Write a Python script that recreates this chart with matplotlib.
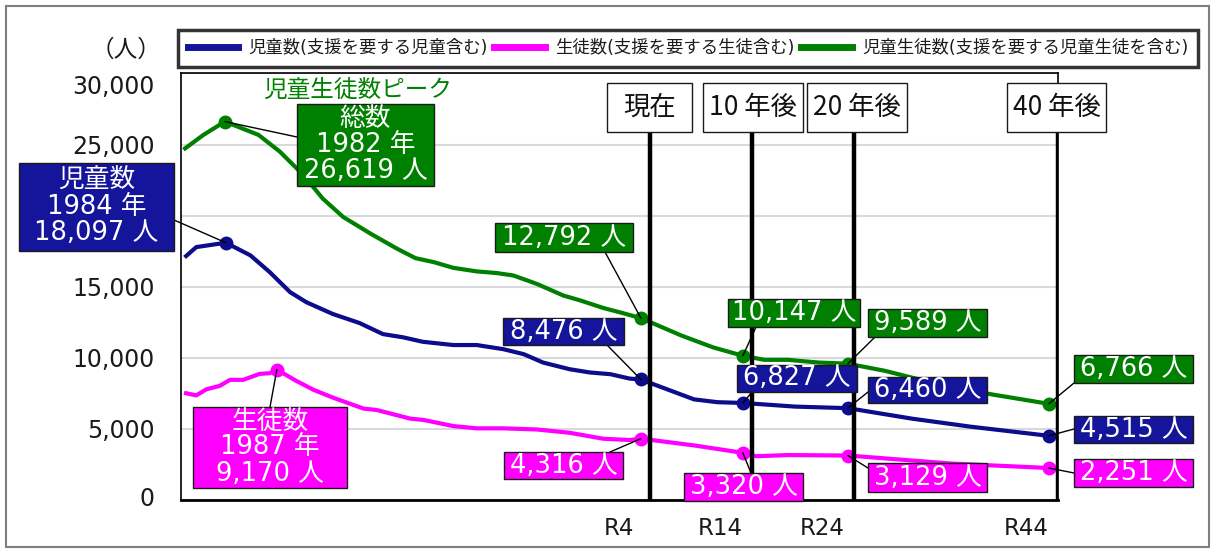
import numpy as np
import matplotlib
matplotlib.use("Agg")
import matplotlib.pyplot as plt
import matplotlib.transforms as mtransforms
from matplotlib.patches import Rectangle, ConnectionPatch
from matplotlib.lines import Line2D

plt.rcParams['font.family'] = ['DejaVu Sans', 'Noto Sans CJK JP']

# ---- data (x = year, y = persons) ----
green_years = [1977.3, 1979.1, 1981.2, 1984.5, 1986.6, 1988.9, 1990.8, 1992.8, 1995.5,
               1998.1, 1999.9, 2001.7, 2003.6, 2005.9, 2007.9, 2009.5, 2011.8, 2014.4,
               2016.0, 2018.3, 2020.3, 2022, 2026, 2029.1, 2032, 2034.1, 2036.4, 2039.4,
               2042.3, 2045.9, 2050.5, 2056.3, 2062]
green_vals = [24730, 25680, 26619, 25680, 24500, 22860, 21200, 19910, 18730,
              17670, 17010, 16730, 16330, 16080, 15960, 15790, 15200, 14380,
              14050, 13510, 13130, 12792, 11560, 10730, 10147, 9860, 9860, 9670,
              9589, 9090, 8260, 7440, 6766]

blue_years = [1977.4, 1978.4, 1981.3, 1983.7, 1985.6, 1987.6, 1989.2, 1991.8, 1994.4,
              1996.7, 1998.7, 2000.6, 2003.6, 2005.9, 2008.5, 2010.5, 2012.4, 2015,
              2017, 2019, 2020.9, 2022, 2027.2, 2029.5, 2032, 2037.1, 2042.3, 2048.6,
              2054.3, 2062]
blue_vals = [17160, 17790, 18097, 17210, 16030, 14620, 13910, 13080, 12450,
             11670, 11440, 11130, 10900, 10900, 10610, 10260, 9670, 9200,
             8970, 8850, 8540, 8476, 7080, 6880, 6827, 6570, 6460, 5720,
             5160, 4515]

pink_years = [1977.4, 1978.4, 1979.4, 1980.7, 1981.7, 1983, 1984.6, 1985.6, 1986.3,
              1988.2, 1989.9, 1991.8, 1994.8, 1996.1, 1999.4, 2000.7, 2003.6, 2005.9,
              2008.5, 2011.8, 2015, 2018.3, 2020.9, 2022, 2027.2, 2032, 2033.3, 2036.4,
              2042.3, 2052.5, 2062]
pink_vals = [7510, 7360, 7790, 8030, 8450, 8450, 8870, 8920, 9170,
             8380, 7750, 7200, 6430, 6330, 5720, 5630, 5200, 5040,
             5040, 4960, 4730, 4310, 4220, 4316, 3840, 3320, 3080, 3160,
             3129, 2560, 2251]

# highlighted points (peak, now, +10, +20, +40 years)
green_mark_years = [1981.2, 2022, 2032, 2042.3, 2062]
green_mark_vals = [26619, 12792, 10147, 9589, 6766]
blue_mark_years = [1981.3, 2022, 2032, 2042.3, 2062]
blue_mark_vals = [18097, 8476, 6827, 6460, 4515]
pink_mark_years = [1986.3, 2022, 2032, 2042.3, 2062]
pink_mark_vals = [9170, 4316, 3320, 3129, 2251]
peak_years = {'green': 1982, 'blue': 1984, 'pink': 1987}

milestone_years = [2022, 2032, 2042, 2062]
milestone_names = ['現在', '10 年後', '20 年後', '40 年後']
reiwa_labels = ['R4', 'R14', 'R24', 'R44']

yticks = [0, 5000, 10000, 15000, 20000, 25000, 30000]
# the 20,000 label is hidden behind the peak box in the original
ytick_labels = ['0', '5,000', '10,000', '15,000', '', '25,000', '30,000']

series_labels = ['児童数(支援を要する児童含む)', '生徒数(支援を要する生徒含む)',
                 '児童生徒数(支援を要する児童生徒を含む)']

C_BLUE_LINE = '#0c0c8c'
C_BLUE_BOX = '#15159c'
C_PINK = '#ff00ff'
C_GREEN = '#008000'

W, H = 1213, 550
fig = plt.figure(figsize=(W / 100, H / 100), dpi=100)


def fx(x):
    return x / W


def fy(y):
    return 1 - y / H


ax = fig.add_axes([fx(181), fy(500), (1058 - 181) / W, 426.5 / H])
ax.set_xlim(1976.9, 2062.9)
ax.set_ylim(0, 30000)

ax.plot(blue_years, blue_vals, color=C_BLUE_LINE, lw=3, zorder=3)
ax.plot(pink_years, pink_vals, color=C_PINK, lw=3, zorder=3)
ax.plot(green_years, green_vals, color=C_GREEN, lw=3, zorder=3)
ax.plot(blue_mark_years, blue_mark_vals, 'o', color=C_BLUE_LINE, ms=9, zorder=4)
ax.plot(pink_mark_years, pink_mark_vals, 'o', color=C_PINK, ms=9, zorder=4)
ax.plot(green_mark_years, green_mark_vals, 'o', color=C_GREEN, ms=9, zorder=4)

# milestone vertical lines
for yr in milestone_years:
    ax.axvline(yr + 0.9, ymin=0, ymax=(500 - 132) / 426.5, color='black', lw=3.2, zorder=5)

ax.set_yticks(yticks)
ax.set_yticklabels(ytick_labels, fontsize=17, color='#1a1a1a')
ax.set_xticks([yr - 2.2 for yr in milestone_years])
ax.set_xticklabels(reiwa_labels, fontsize=16.5, color='#1a1a1a')
ax.tick_params(axis='both', length=0)
ax.tick_params(axis='y', pad=19)
ax.tick_params(axis='x', pad=12)
ax.yaxis.grid(True, color='#d9d9d9', lw=1.5)
ax.set_axisbelow(True)
for side in ['left', 'right', 'top']:
    ax.spines[side].set_linewidth(1.2)
ax.spines['bottom'].set_linewidth(2)

# nudge the outer tick labels like the original
labs = ax.get_yticklabels()
labs[-1].set_transform(labs[-1].get_transform() +
                       mtransforms.ScaledTranslation(0, -0.11, fig.dpi_scale_trans))
labs[0].set_transform(labs[0].get_transform() +
                      mtransforms.ScaledTranslation(0, 0.04, fig.dpi_scale_trans))


def box(x0, y0, x1, y1, face, text, tcolor='white', size=18.5, family=None, ls=1.0):
    r = Rectangle((fx(x0), fy(y1)), (x1 - x0) / W, (y1 - y0) / H, transform=fig.transFigure,
                  facecolor=face, edgecolor='#1a1a1a', lw=1, zorder=6)
    fig.add_artist(r)
    kw = {}
    if family:
        kw['family'] = family
    fig.text(fx((x0 + x1) / 2), fy((y0 + y1) / 2), text, ha='center', va='center',
             color=tcolor, fontsize=size, linespacing=ls, zorder=7, **kw)


def note(anchor, xy, rect, face, text, **kw):
    con = ConnectionPatch(xyA=(fx(anchor[0]), fy(anchor[1])), coordsA=fig.transFigure,
                          xyB=xy, coordsB=ax.transData, color='black', lw=1, zorder=5.5)
    fig.add_artist(con)
    box(*rect, face, text, **kw)


# peak annotations
note((174, 220), (blue_mark_years[0], blue_mark_vals[0]), (19, 163, 174, 251), C_BLUE_BOX,
     f"児童数\n{peak_years['blue']} 年\n{blue_mark_vals[0]:,} 人")
note((297, 137), (green_mark_years[0], green_mark_vals[0]), (297, 104, 434, 186), C_GREEN,
     f"総数\n{peak_years['green']} 年\n{green_mark_vals[0]:,} 人")
note((270, 407), (pink_mark_years[0], pink_mark_vals[0]), (193, 407, 347, 488), C_PINK,
     f"生徒数\n{peak_years['pink']} 年\n{pink_mark_vals[0]:,} 人")
fig.text(fx(358), fy(90), '児童生徒数ピーク', ha='center', va='center', color=C_GREEN,
         fontsize=17, family='Noto Sans CJK JP')

# value annotations for milestones
green_boxes = [(495, 223, 633, 252), (728, 299, 860, 327), (868, 309, 987, 337), (1074, 355, 1193, 383)]
green_anchors = [(605, 252), (756, 327), (875, 337), (1074, 383)]
blue_boxes = [(503, 318, 624, 345), (737, 365, 857, 392), (868, 377, 987, 403), (1074, 416, 1193, 443)]
blue_anchors = [(607, 345), (752, 392), (868, 392), (1074, 429)]
pink_boxes = [(504, 452, 623, 479), (684, 473, 803, 501), (868, 463, 987, 492), (1074, 459, 1193, 487)]
pink_anchors = [(610, 452), (751, 473), (868, 468), (1074, 473)]

for i in range(4):
    note(green_anchors[i], (green_mark_years[i + 1], green_mark_vals[i + 1]), green_boxes[i],
         C_GREEN, f'{green_mark_vals[i + 1]:,} 人')
    note(blue_anchors[i], (blue_mark_years[i + 1], blue_mark_vals[i + 1]), blue_boxes[i],
         C_BLUE_BOX, f'{blue_mark_vals[i + 1]:,} 人')
    note(pink_anchors[i], (pink_mark_years[i + 1], pink_mark_vals[i + 1]), pink_boxes[i],
         C_PINK, f'{pink_mark_vals[i + 1]:,} 人')

# milestone header boxes
head_boxes = [(607, 83, 692, 132), (703, 83, 803, 132), (807, 83, 907, 132), (1007, 83, 1106, 132)]
for rect, name in zip(head_boxes, milestone_names):
    box(*rect, 'white', name, tcolor='#111111', size=19, family='Noto Sans CJK JP')

# unit label
fig.text(fx(126), fy(50), '（人）', ha='center', va='center', fontsize=17,
         family='Noto Sans CJK JP', color='#1a1a1a')

# legend
handles = [Line2D([], [], color=C_BLUE_BOX, lw=5),
           Line2D([], [], color=C_PINK, lw=5),
           Line2D([], [], color=C_GREEN, lw=5)]
leg = fig.legend(handles, series_labels, loc='lower left',
                 bbox_to_anchor=(fx(178), fy(67), 1020 / W, 40 / H), mode='expand', ncol=3,
                 fancybox=False, edgecolor='black', borderaxespad=0, borderpad=0.55,
                 handlelength=2.9, handletextpad=0.6, columnspacing=0.5,
                 prop={'family': ['DejaVu Sans', 'Noto Sans CJK JP'], 'size': 12.5})
leg.get_frame().set_linewidth(2.5)
for t in leg.get_texts():
    t.set_color('#1a1a1a')

# outer frame
fig.add_artist(Rectangle((fx(6), fy(547)), (1209 - 6) / W, (547 - 6) / H,
                         transform=fig.transFigure, fill=False, edgecolor='#7f7f7f', lw=1.5, zorder=0))

fig.savefig('out.png', dpi=100)
